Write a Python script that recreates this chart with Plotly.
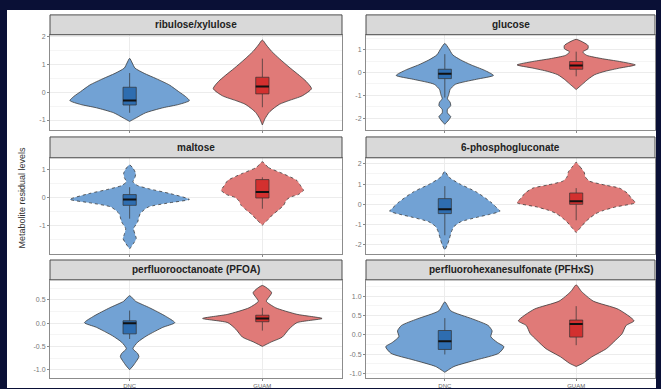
import plotly.graph_objects as go

W, H = 661, 389

metabolites = [
    "ribulose/xylulose",
    "glucose",
    "maltose",
    "6-phosphogluconate",
    "perfluorooctanoate (PFOA)",
    "perfluorohexanesulfonate (PFHxS)",
]
groups = ["DNC", "GUAM"]
group_pos = [1, 2]

# Violin outlines as (level, half-width) pairs, top to bottom
rib_dnc = [(1.22, 0.0), (1.05, 0.02), (0.87, 0.04), (0.68, 0.11), (0.49, 0.2), (0.26, 0.3),
           (0.02, 0.37), (-0.15, 0.42), (-0.3, 0.45), (-0.44, 0.37), (-0.56, 0.25),
           (-0.74, 0.12), (-0.92, 0.05), (-1.05, 0.0)]
rib_guam = [(1.88, 0.0), (1.7, 0.03), (1.47, 0.07), (1.2, 0.13), (0.87, 0.21), (0.6, 0.28),
            (0.39, 0.33), (0.13, 0.37), (-0.13, 0.3), (-0.3, 0.2), (-0.43, 0.13),
            (-0.6, 0.08), (-0.73, 0.05), (-0.95, 0.02), (-1.18, 0.0)]
glc_dnc = [(1.27, 0.0), (1.05, 0.03), (0.77, 0.06), (0.55, 0.12), (0.33, 0.2), (0.1, 0.3),
           (-0.13, 0.37), (-0.3, 0.24), (-0.52, 0.08), (-0.75, 0.04), (-0.97, 0.03),
           (-1.15, 0.02), (-1.3, 0.04), (-1.45, 0.045), (-1.62, 0.02), (-1.78, 0.02),
           (-1.93, 0.045), (-2.08, 0.03), (-2.27, 0.0)]
glc_guam = [(1.45, 0.0), (1.3, 0.06), (1.18, 0.09), (1.04, 0.09), (0.9, 0.05), (0.75, 0.08),
            (0.6, 0.2), (0.48, 0.33), (0.33, 0.45), (0.19, 0.33), (0.05, 0.22),
            (-0.1, 0.14), (-0.3, 0.09), (-0.5, 0.05), (-0.75, 0.0)]
mal_dnc = [(1.15, 0.0), (1.0, 0.03), (0.85, 0.045), (0.7, 0.04), (0.55, 0.025), (0.42, 0.06),
           (0.3, 0.15), (0.13, 0.31), (-0.07, 0.45), (-0.19, 0.3), (-0.34, 0.14),
           (-0.57, 0.08), (-0.87, 0.06), (-1.1, 0.03), (-1.3, 0.04), (-1.45, 0.05),
           (-1.62, 0.03), (-1.82, 0.0)]
mal_guam = [(1.26, 0.0), (1.06, 0.045), (0.83, 0.16), (0.6, 0.26), (0.4, 0.29), (0.25, 0.31),
            (0.1, 0.27), (0.01, 0.21), (-0.1, 0.18), (-0.28, 0.16), (-0.45, 0.12),
            (-0.6, 0.08), (-0.8, 0.04), (-0.98, 0.0)]
pg_dnc = [(1.63, 0.0), (1.35, 0.03), (1.02, 0.11), (0.61, 0.24), (0.11, 0.35), (-0.2, 0.4),
          (-0.34, 0.42), (-0.5, 0.34), (-0.62, 0.26), (-0.87, 0.12), (-1.1, 0.07),
          (-1.36, 0.05), (-1.7, 0.035), (-2.0, 0.02), (-2.27, 0.0)]
pg_guam = [(2.08, 0.0), (1.85, 0.03), (1.6, 0.06), (1.35, 0.07), (1.15, 0.1), (0.95, 0.22),
           (0.8, 0.33), (0.55, 0.39), (0.3, 0.42), (0.08, 0.45), (-0.13, 0.3),
           (-0.3, 0.21), (-0.46, 0.15), (-0.7, 0.1), (-0.87, 0.07), (-1.1, 0.04), (-1.4, 0.0)]
pfoa_dnc = [(0.59, 0.0), (0.47, 0.045), (0.33, 0.15), (0.15, 0.27), (0.01, 0.34),
            (-0.09, 0.25), (-0.27, 0.13), (-0.41, 0.06), (-0.55, 0.025), (-0.65, 0.06),
            (-0.72, 0.07), (-0.82, 0.05), (-0.92, 0.025), (-1.0, 0.0)]
pfoa_guam = [(0.81, 0.0), (0.72, 0.05), (0.65, 0.07), (0.56, 0.05), (0.47, 0.03), (0.33, 0.1),
             (0.19, 0.26), (0.1, 0.45), (0.01, 0.26), (-0.13, 0.2), (-0.3, 0.15),
             (-0.4, 0.07), (-0.5, 0.0)]
pfhxs_dnc = [(0.85, 0.0), (0.62, 0.045), (0.41, 0.21), (0.24, 0.33), (0.1, 0.36),
             (-0.05, 0.35), (-0.2, 0.4), (-0.31, 0.45), (-0.48, 0.41), (-0.65, 0.24),
             (-0.82, 0.07), (-0.97, 0.0)]
pfhxs_guam = [(1.29, 0.0), (1.12, 0.04), (0.87, 0.13), (0.66, 0.32), (0.36, 0.44),
              (0.24, 0.38), (0.03, 0.35), (-0.14, 0.3), (-0.36, 0.23), (-0.57, 0.12),
              (-0.74, 0.05), (-0.82, 0.0)]

violins = [
    [rib_dnc, rib_guam],
    [glc_dnc, glc_guam],
    [mal_dnc, mal_guam],
    [pg_dnc, pg_guam],
    [pfoa_dnc, pfoa_guam],
    [pfhxs_dnc, pfhxs_guam],
]

# Box summaries, ordered metabolite by metabolite, DNC then GUAM
box_low = [-0.74, -0.54, -1.1, -0.17, -0.75, -0.4, -1.53, -0.79, -0.34, -0.16, -0.51, -0.27]
box_q1 = [-0.46, -0.06, -0.27, 0.14, -0.28, -0.02, -0.46, 0.0, -0.23, 0.03, -0.38, -0.06]
box_med = [-0.3, 0.21, -0.06, 0.3, -0.07, 0.19, -0.25, 0.15, 0.0, 0.1, -0.17, 0.28]
box_q3 = [0.18, 0.54, 0.14, 0.48, 0.1, 0.63, 0.28, 0.56, 0.05, 0.17, 0.11, 0.38]
box_high = [0.69, 1.21, 0.8, 0.91, 0.36, 0.71, 0.9, 0.8, 0.27, 0.33, 0.43, 0.74]

y_ranges = [(-1.36, 2.07), (-2.52, 1.65), (-2.0, 1.4), (-2.46, 2.3), (-1.18, 0.93), (-1.12, 1.42)]
y_tickvals = [[-1, 0, 1, 2], [-2, -1, 0, 1], [-1, 0, 1], [-2, -1, 0, 1, 2],
              [-1.0, -0.5, 0.0, 0.5], [-1.0, -0.5, 0.0, 0.5, 1.0]]
y_ticktext = [["-1", "0", "1", "2"], ["-2", "-1", "0", "1"], ["-1", "0", "1"],
              ["-2", "-1", "0", "1", "2"], ["-1.0", "-0.5", "0.0", "0.5"],
              ["-1.0", "-0.5", "0.0", "0.5", "1.0"]]

violin_fill = ["#72a2d4", "#e07a78"]
box_fill = ["#2e6db0", "#d3302f"]
outline = "#3a3a3a"
box_half = 0.05

# Panel geometry in pixels
col_px = [(50, 342), (366, 655)]
row_px = [((13, 33), (33, 129)), ((136, 157), (157, 254)), ((260, 280), (280, 379))]


def px_x(a, b):
    return [a / W, b / W]


def px_y(top, bottom):
    return [1 - bottom / H, 1 - top / H]


fig = go.Figure()
layout = dict(
    width=W, height=H,
    margin=dict(l=0, r=0, t=0, b=0),
    paper_bgcolor="#0a1036",
    plot_bgcolor="white",
    showlegend=False,
    font=dict(family="Liberation Sans, Arial, sans-serif", color="#333"),
    shapes=[], annotations=[],
)

# white page behind the facets
layout["shapes"].append(dict(type="rect", xref="paper", yref="paper",
                             x0=7 / W, x1=656 / W, y0=0, y1=1 - 8 / H,
                             fillcolor="white", line=dict(width=0), layer="below"))

for i, name in enumerate(metabolites):
    row, col = divmod(i, 2)
    n = i + 1
    xa = "x" if n == 1 else f"x{n}"
    ya = "y" if n == 1 else f"y{n}"
    (s_top, s_bot), (p_top, p_bot) = row_px[row]
    cx0, cx1 = col_px[col]
    dash = "dot" if row == 1 else "solid"

    for g, pos in enumerate(group_pos):
        prof = violins[i][g]
        levels = [p[0] for p in prof]
        widths = [p[1] for p in prof]
        xs = [pos + w for w in widths] + [pos - w for w in reversed(widths)]
        ys = levels + list(reversed(levels))
        fig.add_trace(go.Scatter(
            x=xs, y=ys, xaxis=xa, yaxis=ya, mode="lines", fill="toself",
            fillcolor=violin_fill[g], line=dict(color=outline, width=0.8, dash=dash,
                                                shape="spline", smoothing=0.6),
            hoverinfo="skip"))

        k = 2 * i + g
        # whiskers
        fig.add_trace(go.Scatter(
            x=[pos, pos, None, pos, pos],
            y=[box_low[k], box_q1[k], None, box_q3[k], box_high[k]],
            xaxis=xa, yaxis=ya, mode="lines",
            line=dict(color="#303030", width=0.7), hoverinfo="skip"))
        # interquartile box
        fig.add_trace(go.Scatter(
            x=[pos - box_half, pos + box_half, pos + box_half, pos - box_half, pos - box_half],
            y=[box_q1[k], box_q1[k], box_q3[k], box_q3[k], box_q1[k]],
            xaxis=xa, yaxis=ya, mode="lines", fill="toself", fillcolor=box_fill[g],
            line=dict(color="#303030", width=0.7), hoverinfo="skip"))
        # median
        fig.add_trace(go.Scatter(
            x=[pos - box_half, pos + box_half], y=[box_med[k], box_med[k]],
            xaxis=xa, yaxis=ya, mode="lines",
            line=dict(color="#111", width=2), hoverinfo="skip"))

    ylo, yhi = y_ranges[i]
    tv = y_tickvals[i]
    step = tv[1] - tv[0]
    minor_vals = [v + step / 2 for v in [tv[0] - step] + tv]
    minor_vals = [m for m in minor_vals if ylo < m < yhi]

    layout["xaxis" if n == 1 else f"xaxis{n}"] = dict(
        domain=px_x(cx0, cx1), anchor=ya, range=[0.4, 2.6],
        tickvals=group_pos, ticktext=groups, showticklabels=(row == 2),
        tickfont=dict(size=6, color="#666"), ticks="outside", ticklen=2,
        tickcolor="#888", showgrid=True, gridcolor="#ececec", gridwidth=0.8,
        zeroline=False, showline=True, mirror=True, linecolor="#8c8c8c", linewidth=1,
        fixedrange=True)
    layout["yaxis" if n == 1 else f"yaxis{n}"] = dict(
        domain=px_y(p_top, p_bot), anchor=xa, range=[ylo, yhi],
        tickvals=tv, ticktext=y_ticktext[i], tickfont=dict(size=7, color="#777"),
        ticks="outside", ticklen=2, tickcolor="#888",
        showgrid=True, gridcolor="#ececec", gridwidth=0.8,
        minor=dict(tickvals=minor_vals, showgrid=True, gridcolor="#f5f5f5", gridwidth=0.6),
        zeroline=False, showline=True, mirror=True, linecolor="#8c8c8c", linewidth=1,
        fixedrange=True)

    # facet strip
    layout["shapes"].append(dict(type="rect", xref="paper", yref="paper",
                                 x0=cx0 / W, x1=cx1 / W,
                                 y0=1 - s_bot / H, y1=1 - s_top / H,
                                 fillcolor="#d9d9d9", line=dict(color="#4d4d4d", width=1)))
    layout["annotations"].append(dict(
        text=f"<b>{name}</b>", xref="paper", yref="paper",
        x=(cx0 + cx1) / 2 / W, y=1 - (s_top + s_bot) / 2 / H,
        xanchor="center", yanchor="middle", showarrow=False,
        font=dict(size=10, color="#222")))

layout["annotations"].append(dict(
    text="Metabolite residual levels", xref="paper", yref="paper",
    x=22 / W, y=1 - 197 / H, textangle=-90, xanchor="center", yanchor="middle",
    showarrow=False, font=dict(size=9, color="#333")))

fig.update_layout(**layout)
fig.write_html("out.html")
